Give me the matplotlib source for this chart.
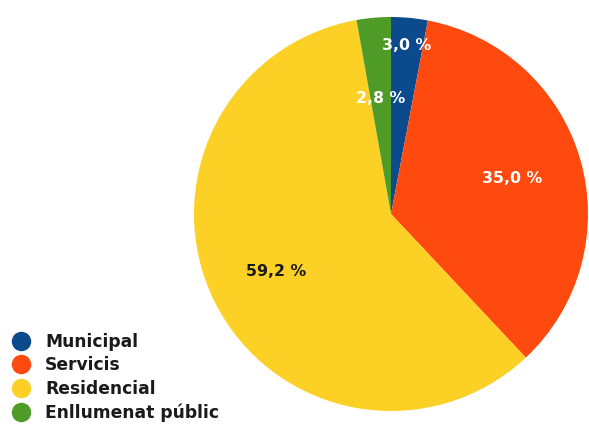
import numpy as np
import matplotlib.pyplot as plt
from matplotlib.lines import Line2D

# Consum per sector (%)
categories = ["Municipal", "Servicis", "Residencial", "Enllumenat públic"]
values = [3.0, 35.0, 59.2, 2.8]
labels = ["3,0 %", "35,0 %", "59,2 %", "2,8 %"]

colors = ["#0c4a8e", "#fe4a0e", "#fcd025", "#4f9b27"]
label_colors = ["white", "white", "#1a1a1a", "white"]
label_radius = [0.86, 0.64, 0.65, 0.59]

W, H = 589, 425
fig = plt.figure(figsize=(W / 100, H / 100), dpi=100)

# pie centre and radius in pixels
cx, cy, r = 391, 214, 197
ax = fig.add_axes([(cx - r) / W, 1 - (cy + r) / H, 2 * r / W, 2 * r / H])

wedges, _ = ax.pie(values, colors=colors, startangle=90, counterclock=False,
                   radius=1.0, wedgeprops=dict(linewidth=0))
ax.set_xlim(-1, 1)
ax.set_ylim(-1, 1)
ax.set_aspect("equal")
ax.axis("off")

for w, lab, col, rad in zip(wedges, labels, label_colors, label_radius):
    ang = np.deg2rad((w.theta1 + w.theta2) / 2)
    ax.text(rad * np.cos(ang), rad * np.sin(ang), lab, color=col,
            ha="center", va="center", fontsize=11.3, fontweight="bold",
            family="DejaVu Sans")

handles = [Line2D([0], [0], marker="o", linestyle="", markersize=13,
                  markerfacecolor=c, markeredgecolor=c) for c in colors]
fig.legend(handles, categories, loc="lower left",
           bbox_to_anchor=(4 / W, -0.009), frameon=False,
           prop=dict(family="DejaVu Sans", weight="bold", size=12.3),
           handletextpad=0.81, labelspacing=0.33, borderaxespad=0,
           borderpad=0.4, handlelength=1.2, labelcolor="#1a1a1a")

fig.savefig("out.png", dpi=100)
